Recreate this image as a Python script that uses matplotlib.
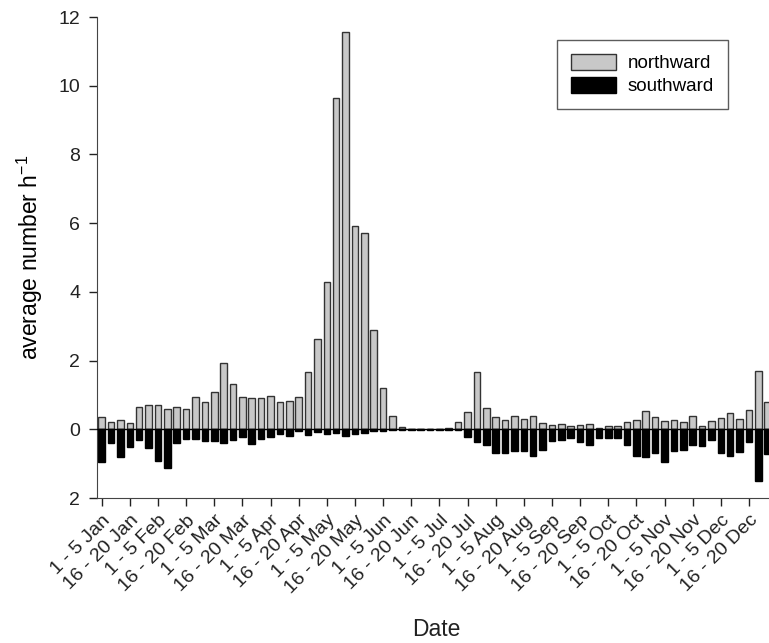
import numpy as np
import matplotlib
matplotlib.use('Agg')
from matplotlib import pyplot as plt
from matplotlib.ticker import FixedLocator, FuncFormatter

plt.rcParams['font.family'] = ['Liberation Sans', 'DejaVu Sans']

# 5-day periods (pentads) through the year
months = ['Jan', 'Feb', 'Mar', 'Apr', 'May', 'Jun',
          'Jul', 'Aug', 'Sep', 'Oct', 'Nov', 'Dec']
tick_labels = []
for m in months:
    tick_labels.append('1 - 5 ' + m)
    tick_labels.append('16 - 20 ' + m)

northward = [0.37, 0.22, 0.28, 0.19, 0.66, 0.72, 0.70, 0.58, 0.66, 0.58,
             0.95, 0.80, 1.09, 1.93, 1.33, 0.95, 0.92, 0.92, 0.97, 0.78,
             0.81, 0.95, 1.67, 2.64, 4.28, 9.65, 11.56, 5.91, 5.72, 2.88,
             1.19, 0.40, 0.08, 0.02, 0.02, 0.02, 0.02, 0.05, 0.20, 0.49,
             1.68, 0.62, 0.35, 0.28, 0.38, 0.29, 0.38, 0.17, 0.13, 0.15,
             0.10, 0.13, 0.16, 0.05, 0.10, 0.10, 0.22, 0.26, 0.52, 0.35,
             0.23, 0.28, 0.22, 0.39, 0.09, 0.24, 0.32, 0.48, 0.29, 0.56,
             1.70, 0.78, 0.50]
southward = [0.96, 0.40, 0.81, 0.51, 0.32, 0.55, 0.91, 1.13, 0.40, 0.29,
             0.28, 0.35, 0.34, 0.39, 0.30, 0.23, 0.43, 0.29, 0.22, 0.15,
             0.20, 0.05, 0.17, 0.09, 0.15, 0.10, 0.19, 0.15, 0.10, 0.05,
             0.04, 0.02, 0.01, 0.01, 0.01, 0.01, 0.01, 0.02, 0.03, 0.22,
             0.36, 0.47, 0.69, 0.70, 0.62, 0.62, 0.78, 0.61, 0.35, 0.32,
             0.25, 0.37, 0.47, 0.25, 0.26, 0.26, 0.45, 0.78, 0.82, 0.70,
             0.95, 0.63, 0.60, 0.45, 0.50, 0.32, 0.69, 0.77, 0.65, 0.36,
             1.50, 0.72, 0.60]

x = np.arange(len(northward))

fig = plt.figure(figsize=(7.69, 6.43), dpi=100)
ax = fig.add_axes([97 / 769, 1 - 498 / 643, 1 - 97 / 769, (498 - 17) / 643])

ax.bar(x, northward, width=0.7, color='#c8c8c8', edgecolor='#333333',
       linewidth=1.0, label='northward', zorder=2)
ax.bar(x, -np.array(southward), width=0.7, color='black', edgecolor='black',
       linewidth=1.0, label='southward', zorder=2)
ax.axhline(0, color='black', linewidth=1.0, zorder=3)

ax.set_xlim(-0.5, 71.14)
ax.set_ylim(-2, 12)

ax.spines['top'].set_visible(False)
ax.spines['right'].set_visible(False)
ax.spines['left'].set_color('#444444')
ax.spines['bottom'].set_color('#444444')

ax.yaxis.set_major_locator(FixedLocator([-2, 0, 2, 4, 6, 8, 10, 12]))
ax.yaxis.set_major_formatter(FuncFormatter(lambda v, p: '%d' % abs(v)))
ax.set_xticks(np.arange(0, 72, 3))
ax.set_xticklabels(tick_labels, rotation=45, ha='right', rotation_mode='anchor')
ax.tick_params(axis='both', direction='out', length=6, width=1.0,
               colors='#222222', labelsize=14)
ax.tick_params(axis='y', pad=6)
ax.tick_params(axis='x', pad=4)

ax.set_ylabel('average number h$^{\\mathregular{-1}}$', fontsize=16.5, labelpad=10)
fig.text(436 / 769, 2 / 643, 'Date', fontsize=16.5, ha='center', va='bottom',
         color='#222222')

leg = ax.legend(loc='upper right', bbox_to_anchor=(0.939, 0.952), fontsize=13.5,
                frameon=True, fancybox=False, edgecolor='#333333',
                handlelength=2.4, handleheight=0.9, borderpad=0.75,
                labelspacing=0.25, handletextpad=0.6, borderaxespad=0)
leg.get_frame().set_linewidth(1.0)

fig.savefig('out.png', dpi=100)
